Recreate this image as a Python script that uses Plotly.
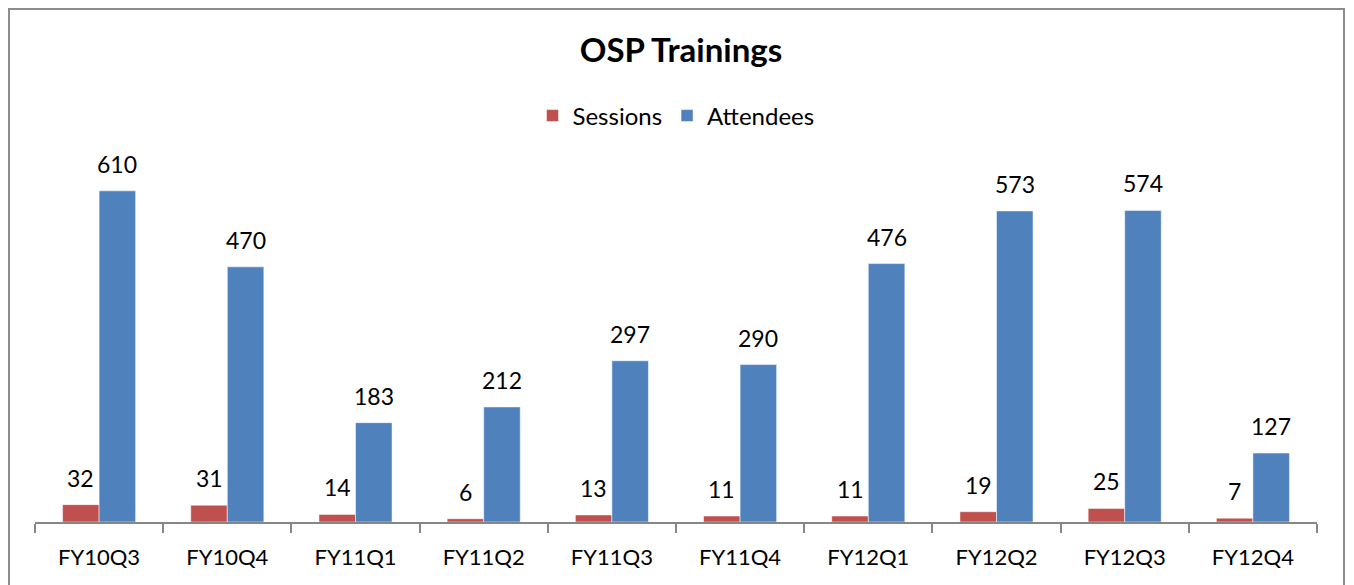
import plotly.graph_objects as go

categories = ["FY10Q3", "FY10Q4", "FY11Q1", "FY11Q2", "FY11Q3", "FY11Q4", "FY12Q1", "FY12Q2", "FY12Q3", "FY12Q4"]
sessions = [32, 31, 14, 6, 13, 11, 11, 19, 25, 7]
attendees = [610, 470, 183, 212, 297, 290, 476, 573, 574, 127]

FONT = "Lato, Calibri, Carlito, sans-serif"

W, H = 1346, 577
L, R, T, B = 27, 37, 134, 63
PW = W - L - R
PH = H - T - B
BARGAP = 0.43
half = PW / len(categories) * (1 - BARGAP) / 4

fig = go.Figure()
fig.add_trace(go.Bar(
    name="Sessions", x=categories, y=sessions,
    marker=dict(color="#C0504D", line=dict(color="rgba(255,255,255,0.5)", width=1)),
))
fig.add_trace(go.Bar(
    name="Attendees", x=categories, y=attendees,
    marker=dict(color="#4F81BD", line=dict(color="rgba(255,255,255,0.5)", width=1)),
))

annotations = []
for series, shift in ((sessions, -half), (attendees, half)):
    for c, v in zip(categories, series):
        annotations.append(dict(x=c, y=v, xref="x", yref="y", text=str(v), showarrow=False,
                                xanchor="center", yanchor="bottom", xshift=shift, yshift=11,
                                font=dict(size=23, family=FONT, color="#000000")))

fig.update_layout(
    width=W, height=H, autosize=False,
    paper_bgcolor="white", plot_bgcolor="white",
    margin=dict(l=L, r=R, t=T, b=B),
    barmode="group", bargap=BARGAP, bargroupgap=0,
    font=dict(family=FONT, color="#000000"),
    title=dict(text="<b>OSP Trainings</b>", x=0.5, xanchor="center",
               y=1 - 42 / H, yanchor="middle", yref="container",
               font=dict(size=33, family=FONT, color="#000000")),
    legend=dict(orientation="h", x=0.5, xanchor="center", y=(514 - 108) / PH, yanchor="middle",
                font=dict(size=24, family=FONT), traceorder="normal",
                bgcolor="rgba(0,0,0,0)"),
    showlegend=True,
    xaxis=dict(showline=True, linecolor="#868686", linewidth=2, ticks="outside",
               tickson="boundaries", ticklen=9, tickcolor="#868686", tickwidth=2,
               ticklabelstandoff=15,
               tickfont=dict(size=22, family=FONT, color="#000000"), showgrid=False,
               zeroline=False),
    yaxis=dict(range=[0, 700], visible=False, showgrid=False, zeroline=False),
    annotations=annotations,
    shapes=[dict(type="rect", xref="paper", yref="paper",
                 x0=(1 - L) / PW, x1=(1336 - L) / PW,
                 y0=-0.3, y1=(514 - 1) / PH,
                 line=dict(color="#8C8C8C", width=2), fillcolor="rgba(0,0,0,0)", layer="below")],
)

fig.write_html("out.html")
